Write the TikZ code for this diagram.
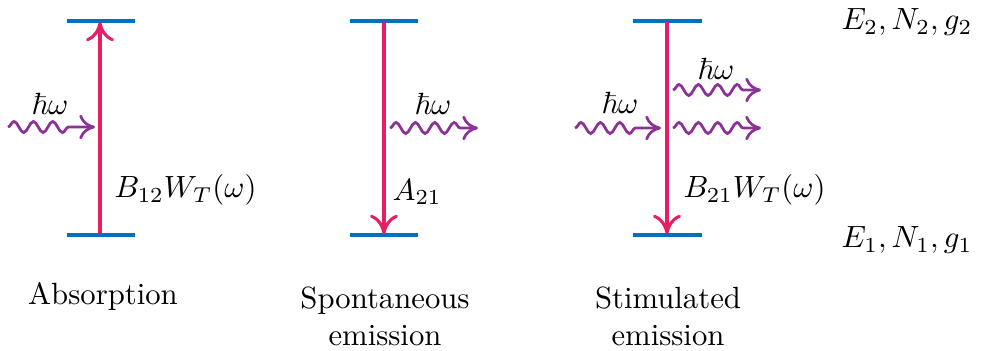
\documentclass[tikz,border=0pt]{standalone}
\usepackage{amsmath}
\usepackage{amssymb}
\usepackage{tikz}
\usetikzlibrary{decorations.pathmorphing,arrows.meta}

\definecolor{levelblue}{RGB}{0,112,192}
\definecolor{transpink}{RGB}{230,30,100}
\definecolor{photonpurple}{RGB}{140,50,150}

\begin{document}
\begin{tikzpicture}[
  x=0.01144cm, y=-0.01144cm,
  level/.style={draw=levelblue, line width=1.3pt},
  trans/.style={draw=transpink, line width=1pt, -{To[length=2.2mm,width=3.2mm]}},
  photon/.style={draw=photonpurple, line width=0.9pt, -{To[length=1.8mm,width=2.8mm]},
                 decorate, decoration={snake, amplitude=1.8pt, segment length=6.3pt,
                 post=lineto, post length=2mm}},
  lbl/.style={inner sep=1pt},
  captxt/.style={align=center, inner sep=1pt}
]
\useasboundingbox (0,0) rectangle (983,350);

% energy levels
\coordinate (absUL) at (67,21);   \coordinate (absUR) at (135,21);
\coordinate (absLL) at (67,235);  \coordinate (absLR) at (135,235);
\coordinate (spoUL) at (350,21);  \coordinate (spoUR) at (418,21);
\coordinate (spoLL) at (350,235); \coordinate (spoLR) at (418,235);
\coordinate (stiUL) at (633,21);  \coordinate (stiUR) at (702,21);
\coordinate (stiLL) at (633,235); \coordinate (stiLR) at (702,235);

\draw[level] (absUL) -- (absUR);
\draw[level] (absLL) -- (absLR);
\draw[level] (spoUL) -- (spoUR);
\draw[level] (spoLL) -- (spoLR);
\draw[level] (stiUL) -- (stiUR);
\draw[level] (stiLL) -- (stiLR);

% transitions
\coordinate (absTop) at (100,22);  \coordinate (absBot) at (100,234);
\coordinate (spoTop) at (384,22);  \coordinate (spoBot) at (384,234);
\coordinate (stiTop) at (667,22);  \coordinate (stiBot) at (667,234);

\draw[trans] (absBot) -- (absTop);
\draw[trans] (spoTop) -- (spoBot);
\draw[trans] (stiTop) -- (stiBot);

% photons
\coordinate (absIn0)  at (8,127);   \coordinate (absIn1)  at (95,127);
\coordinate (spoOut0) at (390,128); \coordinate (spoOut1) at (478,128);
\coordinate (stiIn0)  at (575,128); \coordinate (stiIn1)  at (661,128);
\coordinate (stiOutA0) at (673,90); \coordinate (stiOutA1) at (761,90);
\coordinate (stiOutB0) at (673,128); \coordinate (stiOutB1) at (761,128);

\draw[photon] (absIn0) -- (absIn1);
\draw[photon] (spoOut0) -- (spoOut1);
\draw[photon] (stiIn0) -- (stiIn1);
\draw[photon] (stiOutA0) -- (stiOutA1);
\draw[photon] (stiOutB0) -- (stiOutB1);

\node[lbl] (absHw)  at (50,104)  {$\hbar\omega$};
\node[lbl] (spoHw)  at (433,104) {$\hbar\omega$};
\node[lbl] (stiHw)  at (620,103) {$\hbar\omega$};
\node[lbl] (stiHw2) at (716,69)  {$\hbar\omega$};

% rates
\node[lbl, anchor=west] (absRate) at (111,190) {$B_{12}W_T(\omega)$};
\node[lbl, anchor=west] (spoRate) at (389,192) {$A_{21}$};
\node[lbl, anchor=west] (stiRate) at (680,190) {$B_{21}W_T(\omega)$};

% level labels
\node[lbl, anchor=west] (upLbl)  at (838,22)  {$E_2, N_2, g_2$};
\node[lbl, anchor=west] (lowLbl) at (838,240) {$E_1, N_1, g_1$};

% captions
\node[captxt] (absCap) at (103,296) {Absorption};
\node[captxt, anchor=north] (spoCap) at (385,283) {Spontaneous\\emission};
\node[captxt, anchor=north] (stiCap) at (668,283) {Stimulated\\emission};
\end{tikzpicture}
\end{document}
